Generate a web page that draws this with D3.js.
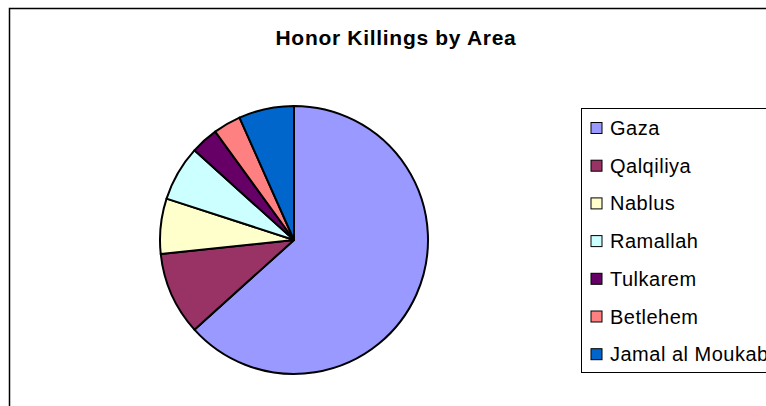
<!DOCTYPE html>
<html>
<head>
<meta charset="utf-8">
<script src="https://cdn.jsdelivr.net/npm/d3@7"></script>
<style>
  body { margin: 0; background: #fff; overflow: hidden; }
  svg { display: block; font-family: "Liberation Sans", Arial, sans-serif; }
</style>
</head>
<body>
<svg id="chart"></svg>
<script>
// Data
const areas = ['Gaza', 'Qalqiliya', 'Nablus', 'Ramallah', 'Tulkarem', 'Betlehem', 'Jamal al Moukaber'];
const killings = [19, 3, 2, 2, 1, 1, 2];
const sliceColors = ['#9999ff', '#993366', '#ffffcc', '#ccffff', '#660066', '#ff8080', '#0066cc'];

const width = 766, height = 406;
const cx = 294, cy = 240, radius = 134;

const svg = d3.select('#chart')
    .attr('width', width)
    .attr('height', height);

// outer chart border (runs off the right/bottom edge, as in the original)
svg.append('rect')
    .attr('x', 9.5)
    .attr('y', 8.5)
    .attr('width', 800)
    .attr('height', 450)
    .attr('fill', '#fff')
    .attr('stroke', '#000')
    .attr('stroke-width', 1.5);

svg.append('text')
    .attr('x', 396)
    .attr('y', 45)
    .attr('text-anchor', 'middle')
    .style('font-size', '21px')
    .style('font-weight', 'bold')
    .style('letter-spacing', '0.7px')
    .text('Honor Killings by Area');

const data = areas.map((a, i) => ({ area: a, value: killings[i] }));

const color = d3.scaleOrdinal()
    .domain(areas)
    .range(sliceColors);

const pie = d3.pie()
    .value(d => d.value)
    .sort(null);

const arc = d3.arc()
    .innerRadius(0)
    .outerRadius(radius);

const pieG = svg.append('g')
    .attr('transform', `translate(${cx},${cy})`);

pieG.selectAll('path')
    .data(pie(data))
    .join('path')
    .attr('d', arc)
    .attr('fill', d => color(d.data.area))
    .attr('stroke', '#000')
    .attr('stroke-width', 2)
    .attr('stroke-linejoin', 'round');

// Legend
const legend = svg.append('g');

legend.append('rect')
    .attr('x', 581.5)
    .attr('y', 108.5)
    .attr('width', 220)
    .attr('height', 264)
    .attr('fill', '#fff')
    .attr('stroke', '#000')
    .attr('stroke-width', 1);

const step = 37.7;
const items = legend.selectAll('.item')
    .data(areas)
    .join('g')
    .attr('class', 'item')
    .attr('transform', (d, i) => `translate(0,${128 + i * step})`);

items.append('rect')
    .attr('x', 591)
    .attr('y', -5.5)
    .attr('width', 11)
    .attr('height', 11)
    .attr('fill', d => color(d))
    .attr('stroke', '#000')
    .attr('stroke-width', 1);

items.append('text')
    .attr('x', 610)
    .attr('y', 7)
    .style('font-size', '20px')
    .style('letter-spacing', '0.5px')
    .text(d => d);
</script>
</body>
</html>
